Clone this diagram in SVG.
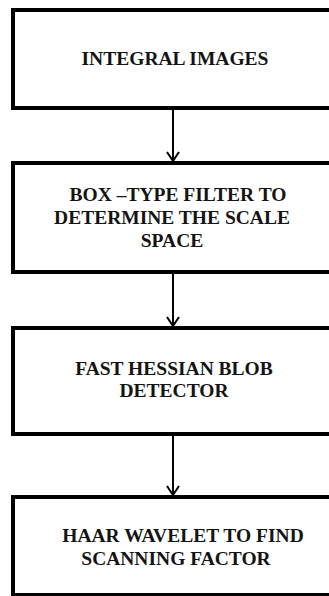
<svg xmlns="http://www.w3.org/2000/svg" width="329" height="596" viewBox="0 0 329 596">
<style>
.box{fill:#fff;stroke:#000;stroke-width:4}
.t{font-family:"Liberation Serif","Times New Roman",serif;font-weight:bold;font-size:19.5px;fill:#141414;text-anchor:middle}
.c{stroke:#000;stroke-width:2;fill:none}
.ah{stroke:#000;stroke-width:2;fill:none}
</style>
<rect width="329" height="596" fill="#fff"/>
<g id="connectors">
<line class="c" x1="173" y1="110" x2="173" y2="161"/>
<path class="ah" d="M167,152 L173,161 L179,152"/>
<line class="c" x1="173" y1="274" x2="173" y2="326"/>
<path class="ah" d="M167,317 L173,326 L179,317"/>
<line class="c" x1="173" y1="436" x2="173" y2="495"/>
<path class="ah" d="M167,486 L173,495 L179,486"/>
</g>
<g id="node1">
<rect class="box" x="13" y="10" width="330" height="98"/>
<text class="t" x="175" y="65">INTEGRAL IMAGES</text>
</g>
<g id="node2">
<rect class="box" x="13" y="163" width="330" height="109"/>
<text class="t" x="178" y="201">BOX –TYPE FILTER TO</text>
<text class="t" x="172" y="224">DETERMINE THE SCALE</text>
<text class="t" x="172" y="247">SPACE</text>
</g>
<g id="node3">
<rect class="box" x="13" y="328" width="330" height="106"/>
<text class="t" x="174" y="375">FAST HESSIAN BLOB</text>
<text class="t" x="174" y="397">DETECTOR</text>
</g>
<g id="node4">
<rect class="box" x="13" y="497" width="330" height="98"/>
<text class="t" x="183" y="542">HAAR WAVELET TO FIND</text>
<text class="t" x="176" y="565">SCANNING FACTOR</text>
</g>
</svg>
